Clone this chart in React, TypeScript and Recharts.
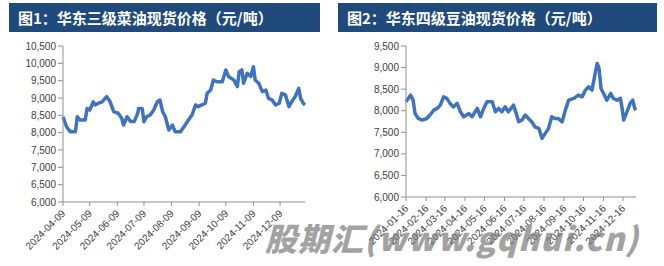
import { Line, LineChart, XAxis, YAxis } from "recharts"

// 图1 华东三级菜油
const rapeDates = [
  "2024-04-09", "2024-04-13", "2024-04-17", "2024-04-23", "2024-04-25", "2024-04-28",
  "2024-05-04", "2024-05-06", "2024-05-09", "2024-05-13", "2024-05-15", "2024-05-19",
  "2024-05-23", "2024-05-28", "2024-06-01", "2024-06-05", "2024-06-10", "2024-06-14",
  "2024-06-16", "2024-06-20", "2024-06-24", "2024-06-28", "2024-07-02", "2024-07-03",
  "2024-07-07", "2024-07-09", "2024-07-12", "2024-07-16", "2024-07-20", "2024-07-24",
  "2024-07-27", "2024-07-30", "2024-08-02", "2024-08-06", "2024-08-10", "2024-08-13",
  "2024-08-19", "2024-08-23", "2024-08-28", "2024-09-01", "2024-09-05", "2024-09-08",
  "2024-09-12", "2024-09-16", "2024-09-18", "2024-09-22", "2024-09-25", "2024-09-29",
  "2024-10-05", "2024-10-09", "2024-10-12", "2024-10-18", "2024-10-22", "2024-10-24",
  "2024-10-27", "2024-10-29", "2024-11-02", "2024-11-06", "2024-11-09", "2024-11-11",
  "2024-11-15", "2024-11-19", "2024-11-23", "2024-11-26", "2024-11-30", "2024-12-04",
  "2024-12-08", "2024-12-11", "2024-12-15", "2024-12-19", "2024-12-22", "2024-12-26",
  "2024-12-30", "2025-01-01", "2025-01-04", "2025-01-06",
]
const rapePrices = [
  8460, 8170, 8030, 8030, 8460, 8365,
  8365, 8700, 8650, 8890, 8800, 8850,
  8890, 9040, 8890, 8605, 8560, 8415,
  8220, 8460, 8320, 8320, 8560, 8700,
  8700, 8315, 8460, 8510, 8655, 8890,
  8940, 8605, 8460, 8077, 8220, 8030,
  8030, 8170, 8365, 8510, 8800, 8750,
  8800, 8850, 9135, 9230, 9520, 9470,
  9470, 9810, 9620, 9520, 9330, 9760,
  9810, 9425, 9710, 9620, 9900, 9520,
  9425, 9185, 9230, 8990, 8940, 8800,
  8850, 9135, 9090, 8750, 8890, 9040,
  9280, 8990, 8850, 8800,
]
const rapeTicks = [
  "2024-04-09", "2024-05-09", "2024-06-09", "2024-07-09", "2024-08-09",
  "2024-09-09", "2024-10-09", "2024-11-09", "2024-12-09",
]
const rapeYTicks = [6000, 6500, 7000, 7500, 8000, 8500, 9000, 9500, 10000, 10500]

// 图2 华东四级豆油
const soyDates = [
  "2024-01-16", "2024-01-23", "2024-01-27", "2024-01-30", "2024-02-04", "2024-02-10",
  "2024-02-17", "2024-02-22", "2024-02-28", "2024-03-04", "2024-03-09", "2024-03-14",
  "2024-03-19", "2024-03-24", "2024-03-29", "2024-04-04", "2024-04-09", "2024-04-14",
  "2024-04-22", "2024-04-27", "2024-05-05", "2024-05-10", "2024-05-15", "2024-05-20",
  "2024-05-28", "2024-06-02", "2024-06-07", "2024-06-12", "2024-06-17", "2024-06-22",
  "2024-06-30", "2024-07-08", "2024-07-13", "2024-07-18", "2024-07-23", "2024-07-28",
  "2024-08-02", "2024-08-08", "2024-08-13", "2024-08-18", "2024-08-23", "2024-08-28",
  "2024-09-02", "2024-09-07", "2024-09-13", "2024-09-18", "2024-09-23", "2024-10-01",
  "2024-10-08", "2024-10-14", "2024-10-19", "2024-10-24", "2024-10-29", "2024-11-02",
  "2024-11-06", "2024-11-09", "2024-11-12", "2024-11-16", "2024-11-21", "2024-11-27",
  "2024-12-01", "2024-12-07", "2024-12-12", "2024-12-15", "2024-12-17", "2024-12-22",
  "2024-12-27", "2024-12-31", "2025-01-03", "2025-01-05",
]
const soyPrices = [
  8206, 8361, 8245, 7937, 7820, 7783,
  7820, 7900, 8014, 8053, 8130, 8322,
  8285, 8169, 8090, 8169, 7975, 7860,
  7937, 7860, 8053, 7860, 8053, 8206,
  8206, 7975, 8053, 7975, 8090, 7975,
  8130, 7743, 7783, 7900, 7820, 7743,
  7627, 7590, 7359, 7475, 7590, 7860,
  7820, 7820, 7743, 8014, 8245, 8285,
  8361, 8322, 8477, 8554, 8477, 8785,
  9095, 8979, 8516, 8400, 8245, 8400,
  8285, 8245, 8285, 8014, 7783, 7975,
  8169, 8245, 8053, 8014,
]
const soyTicks = [
  "2024-01-16", "2024-02-16", "2024-03-16", "2024-04-16", "2024-05-16", "2024-06-16",
  "2024-07-16", "2024-08-16", "2024-09-16", "2024-10-16", "2024-11-16", "2024-12-16",
]
const soyYTicks = [6000, 6500, 7000, 7500, 8000, 8500, 9000, 9500]

const LINE = "#4173bb"
const AXIS = "#8f8f8f"
const FONT = "'Liberation Sans', Arial, sans-serif"

const toRows = (dates: string[], prices: number[]) =>
  dates.map((d, i) => ({ t: Date.parse(d), v: prices[i] }))

const DateTick = (props: any) => {
  const { x, y, payload } = props
  const label = new Date(payload.value).toISOString().slice(0, 10)
  return (
    <text
      x={x + 3}
      y={y + 6}
      transform={`rotate(-45 ${x + 3} ${y + 6})`}
      textAnchor="end"
      fontSize={10}
      fontFamily={FONT}
      fill="#404040"
    >
      {label}
    </text>
  )
}

interface PanelProps {
  left: number
  title: string
  barLeft: number
  barWidth: number
  rows: { t: number; v: number }[]
  ticks: string[]
  yTicks: number[]
  yAxisWidth: number
  rightGap: number
  xAxisHeight: number
}

function Panel({ left, title, barLeft, barWidth, rows, ticks, yTicks, yAxisWidth, rightGap, xAxisHeight }: PanelProps) {
  return (
    <div style={{ position: "absolute", left, top: 0, width: 332, height: 266 }}>
      <div
        style={{
          position: "absolute",
          left: barLeft,
          top: 3,
          width: barWidth,
          height: 29,
          background: "#1f4a7b",
          color: "#fff",
          fontFamily: "'Noto Sans CJK SC', sans-serif",
          fontWeight: 700,
          fontSize: 15,
          lineHeight: "29px",
          paddingLeft: 9,
          boxSizing: "border-box",
          whiteSpace: "nowrap",
        }}
      >
        {title}
      </div>
      <LineChart
        width={332}
        height={266}
        data={rows}
        margin={{ top: 46, right: rightGap, bottom: 0, left: 0 }}
      >
        <XAxis
          dataKey="t"
          type="number"
          domain={["dataMin", "dataMax"]}
          ticks={ticks.map((d) => Date.parse(d))}
          tick={DateTick}
          height={xAxisHeight}
          stroke={AXIS}
          tickSize={4}
          interval={0}
        />
        <YAxis
          domain={[yTicks[0], yTicks[yTicks.length - 1]]}
          ticks={yTicks}
          width={yAxisWidth}
          stroke={AXIS}
          tickSize={5}
          interval={0}
          tick={{ fontSize: 10, fontFamily: FONT, fill: "#404040" }}
          tickFormatter={(v: number) => v.toLocaleString("en-US")}
        />
        <Line
          type="linear"
          dataKey="v"
          stroke={LINE}
          strokeWidth={3.5}
          strokeLinejoin="round"
          dot={false}
          activeDot={false}
          isAnimationActive={false}
        />
      </LineChart>
    </div>
  )
}

export default function App() {
  return (
    <div style={{ position: "absolute", left: 0, top: 0, width: 664, height: 266, background: "#fff", overflow: "hidden" }}>
      <Panel
        left={0}
        title="图1：华东三级菜油现货价格（元/吨）"
        barLeft={9}
        barWidth={311}
        rows={toRows(rapeDates, rapePrices)}
        ticks={rapeTicks}
        yTicks={rapeYTicks}
        yAxisWidth={63}
        rightGap={27}
        xAxisHeight={64}
      />
      <Panel
        left={332}
        title="图2：华东四级豆油现货价格（元/吨）"
        barLeft={6}
        barWidth={319}
        rows={toRows(soyDates, soyPrices)}
        ticks={soyTicks}
        yTicks={soyYTicks}
        yAxisWidth={74}
        rightGap={28}
        xAxisHeight={69}
      />
      <div
        style={{
          position: "absolute",
          left: 265,
          top: 214,
          fontFamily: "'Noto Sans CJK SC', sans-serif",
          fontWeight: 900,
          fontStyle: "italic",
          fontSize: 32,
          letterSpacing: 1,
          color: "rgba(120,120,120,0.7)",
          whiteSpace: "nowrap",
          pointerEvents: "none",
        }}
      >
        股期汇(www.gqhui.cn)
      </div>
    </div>
  )
}
